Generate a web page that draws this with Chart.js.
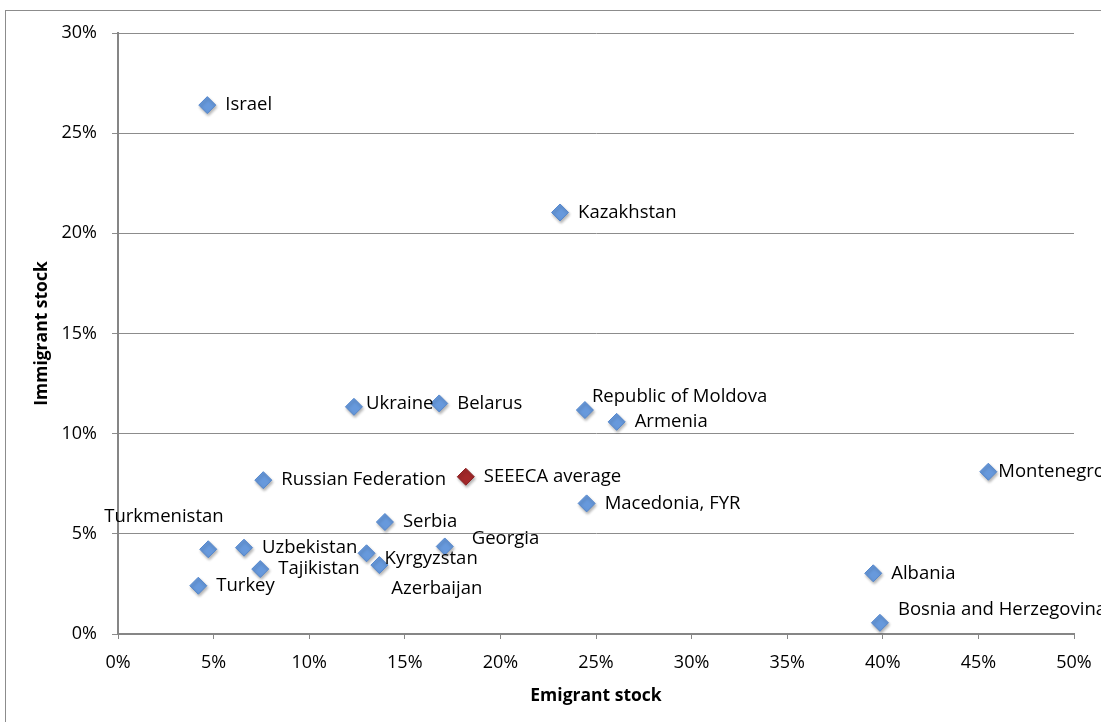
<!DOCTYPE html>
<html>
<head>
<meta charset="utf-8">
<script src="https://cdn.jsdelivr.net/npm/chart.js@4/dist/chart.umd.min.js"></script>
<style>
  html, body { margin: 0; padding: 0; background: #fff; overflow: hidden; }
  #wrap { position: relative; width: 1101px; height: 722px; }
  #frame { position: absolute; left: 5px; top: 10px; width: 1200px; height: 800px;
           border: 1px solid #8c8c8c; pointer-events: none; }
</style>
</head>
<body>
<div id="wrap">
  <canvas id="chart" width="1101" height="722"></canvas>
  <div id="frame"></div>
</div>
<script>
// Emigrant / immigrant stock, % of population
const countries = ['Israel', 'Kazakhstan', 'Ukraine', 'Belarus', 'Republic of Moldova', 'Armenia',
  'Russian Federation', 'Montenegro', 'Macedonia, FYR', 'Serbia', 'Georgia', 'Turkmenistan',
  'Uzbekistan', 'Kyrgyzstan', 'Tajikistan', 'Azerbaijan', 'Turkey', 'Albania', 'Bosnia and Herzegovina'];
const emigrant = [4.67, 23.12, 12.34, 16.8, 24.42, 26.08, 7.6, 45.52, 24.51, 13.96, 17.09, 4.72,
  6.59, 13.0, 7.44, 13.67, 4.2, 39.5, 39.85];
const immigrant = [26.4, 21.04, 11.34, 11.51, 11.18, 10.59, 7.68, 8.1, 6.52, 5.59, 4.37, 4.23,
  4.31, 4.03, 3.24, 3.44, 2.41, 3.03, 0.56];

const averageName = 'SEEECA average';
const averageEmigrant = [18.19];
const averageImmigrant = [7.85];

const xTickValues = [0, 5, 10, 15, 20, 25, 30, 35, 40, 45, 50];
const yTickValues = [0, 5, 10, 15, 20, 25, 30];

// label placement relative to the marker (default: right of it)
const labelShift = {
  'Ukraine': [12, -3],
  'Republic of Moldova': [7, -13],
  'Montenegro': [10, 0],
  'Georgia': [27, -8],
  'Turkmenistan': [-104, -33],
  'Kyrgyzstan': [18, 5],
  'Azerbaijan': [12, 24],
  'Bosnia and Herzegovina': [18, -13]
};

const FONT = 'Open Sans';

const labelPlugin = {
  id: 'pointLabels',
  afterDatasetsDraw(chart) {
    const ctx = chart.ctx;
    ctx.save();
    ctx.font = '18.5px "' + FONT + '"';
    ctx.fillStyle = '#000';
    ctx.textAlign = 'left';
    ctx.textBaseline = 'middle';
    chart.data.datasets.forEach((ds, i) => {
      chart.getDatasetMeta(i).data.forEach((pt, j) => {
        const name = ds.names[j];
        const s = labelShift[name] || [18, 0];
        ctx.fillText(name, pt.x + s[0], pt.y + s[1]);
      });
    });
    ctx.restore();
  }
};

const shadowPlugin = {
  id: 'markerShadow',
  beforeDatasetsDraw(chart) {
    chart.ctx.save();
    chart.ctx.shadowColor = 'rgba(0,0,0,0.3)';
    chart.ctx.shadowBlur = 3;
    chart.ctx.shadowOffsetX = 1;
    chart.ctx.shadowOffsetY = 2;
  },
  afterDatasetsDraw(chart) {
    chart.ctx.restore();
  }
};

new Chart(document.getElementById('chart'), {
  type: 'scatter',
  data: {
    datasets: [{
      names: countries,
      data: emigrant.map((x, i) => ({ x: x, y: immigrant[i] })),
      pointStyle: 'rectRot',
      pointRadius: 8.5,
      pointBackgroundColor: '#6799dc',
      pointBorderColor: '#5587cc',
      pointBorderWidth: 1
    }, {
      names: [averageName],
      data: averageEmigrant.map((x, i) => ({ x: x, y: averageImmigrant[i] })),
      pointStyle: 'rectRot',
      pointRadius: 8.5,
      pointBackgroundColor: '#a3282a',
      pointBorderColor: '#8a2022',
      pointBorderWidth: 1
    }]
  },
  options: {
    responsive: false,
    animation: false,
    events: [],
    layout: { padding: { left: 28, top: 33, right: 27, bottom: 11 } },
    plugins: { legend: { display: false }, tooltip: { enabled: false } },
    scales: {
      x: {
        type: 'linear',
        min: 0, max: 50,
        afterBuildTicks: s => { s.ticks = xTickValues.map(v => ({ value: v })); },
        afterFit: s => { s.height = 77; s.paddingLeft = 0; s.paddingRight = 0; },
        border: { color: '#868686', width: 2 },
        grid: { drawOnChartArea: false, drawTicks: true, tickLength: 5, color: '#868686' },
        ticks: { padding: 13, color: '#000', font: { family: FONT, size: 18 }, callback: v => v + '%' },
        title: { display: true, text: 'Emigrant stock', color: '#000',
                 font: { family: FONT, size: 17.5, weight: 'bold' } }
      },
      y: {
        type: 'linear',
        min: 0, max: 30,
        afterBuildTicks: s => { s.ticks = yTickValues.map(v => ({ value: v })); },
        afterFit: s => { s.width = 90; s.paddingTop = 0; s.paddingBottom = 0; },
        border: { color: '#868686', width: 2 },
        grid: { drawOnChartArea: true, drawTicks: true, tickLength: 6, color: '#8c8c8c', lineWidth: 1 },
        ticks: { padding: 15, color: '#000', font: { family: FONT, size: 18 }, callback: v => v + '%' },
        title: { display: true, text: 'Immigrant stock', color: '#000',
                 font: { family: FONT, size: 17.5, weight: 'bold' } }
      }
    }
  },
  plugins: [shadowPlugin, labelPlugin]
});
</script>
</body>
</html>
